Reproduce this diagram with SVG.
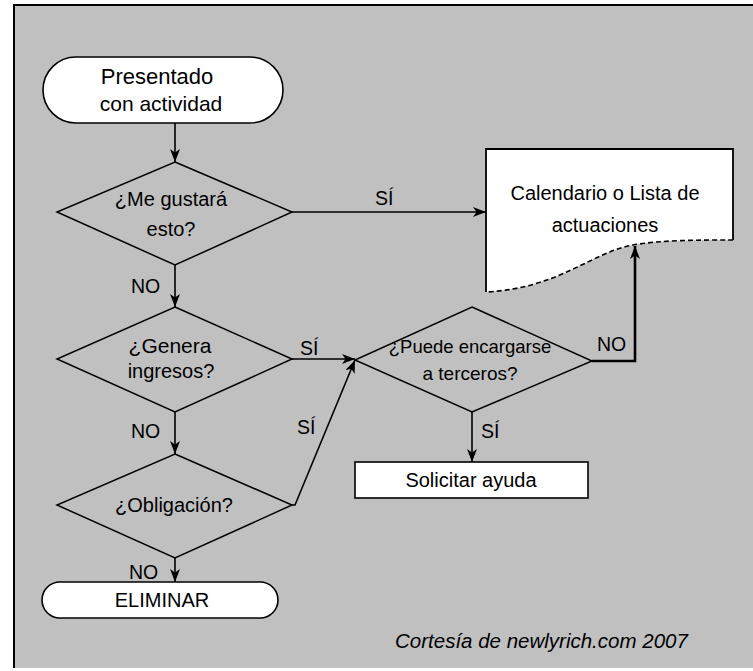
<svg xmlns="http://www.w3.org/2000/svg" width="753" height="671" viewBox="0 0 753 671">
<defs>
<style>
.bg{fill:#c0c0c0}
.frame{stroke:#000;stroke-width:2;fill:none}
.term{fill:#fff;stroke:#000;stroke-width:1.6}
.dia{fill:none;stroke:#000;stroke-width:1.5}
.box{fill:#fff;stroke:#000;stroke-width:1.6}
.t{font-family:"Liberation Sans",Arial,sans-serif;font-size:20px;fill:#000;text-anchor:middle}
.ta{font-family:"Liberation Sans",Arial,sans-serif;font-size:20px;fill:#000;text-anchor:middle}
.lbl{font-family:"Liberation Sans",Arial,sans-serif;font-size:19.5px;fill:#000}
.cr{font-family:"Liberation Sans",Arial,sans-serif;font-size:20.5px;font-style:italic;fill:#000}
.c{fill:none;stroke:#000;stroke-width:1.6}
.thick{fill:none;stroke:#000;stroke-width:2.6}
</style>
<marker id="ah" markerUnits="userSpaceOnUse" markerWidth="14" markerHeight="10" refX="13" refY="5" orient="auto">
<path d="M0,0 L13,5 L0,10 L3.5,5 z" fill="#000"/>
</marker>
</defs>
<rect x="0" y="0" width="753" height="671" fill="#fff"/>
<rect class="bg" x="14" y="5" width="739" height="663"/>
<path class="frame" d="M14,668 L14,5 L753,5"/>

<g id="connectors">
<path class="c" d="M175,123 L175,162" marker-end="url(#ah)"/>
<path class="c" d="M292,212 L486,212" marker-end="url(#ah)"/>
<path class="c" d="M175,265 L175,307" marker-end="url(#ah)"/>
<path class="c" d="M292,359 L355,359" marker-end="url(#ah)"/>
<path class="c" d="M175,412 L175,454" marker-end="url(#ah)"/>
<path class="c" d="M292,505 L295,505 L355,360" marker-end="url(#ah)"/>
<path class="c" d="M175,558 L175,582" marker-end="url(#ah)"/>
<path class="c" d="M472,412 L472,462" marker-end="url(#ah)"/>
<path class="thick" d="M592,361 L635,361 L635,246" marker-end="url(#ah)"/>
<text class="lbl" x="375" y="205">SÍ</text>
<text class="lbl" x="131" y="293">NO</text>
<text class="lbl" x="300" y="355">SÍ</text>
<text class="lbl" x="131" y="438">NO</text>
<text class="lbl" x="297" y="434">SÍ</text>
<text class="lbl" x="129" y="579">NO</text>
<text class="lbl" x="481" y="438">SÍ</text>
<text class="lbl" x="597" y="351">NO</text>
</g>

<g id="start">
<rect class="term" x="43" y="57" width="240" height="66" rx="33"/>
<text class="t" x="157" y="84" style="font-size:22px">Presentado</text>
<text class="t" x="161" y="111" style="font-size:21px">con actividad</text>
</g>

<g id="q1">
<polygon class="dia" points="175,162 292,212 175,265 57,212"/>
<text class="t" x="171" y="206">¿Me gustará</text>
<text class="t" x="171" y="236">esto?</text>
</g>

<g id="q2">
<polygon class="dia" points="175,307 292,359 175,412 57,359"/>
<text class="t" x="170" y="353" style="font-size:21px">¿Genera</text>
<text class="t" x="171" y="378">ingresos?</text>
</g>

<g id="q3">
<polygon class="dia" points="175,454 292,505 175,558 57,505"/>
<text class="t" x="174" y="512">¿Obligación?</text>
</g>

<g id="end">
<rect class="term" x="42" y="582" width="236" height="36" rx="18"/>
<text class="t" x="162" y="607">ELIMINAR</text>
</g>

<g id="q4">
<polygon class="dia" points="472,307 592,361 472,412 355,360"/>
<text class="t" x="470" y="353" style="font-size:18.5px">¿Puede encargarse</text>
<text class="t" x="470" y="380" style="font-size:19px">a terceros?</text>
</g>

<g id="help">
<rect class="box" x="355" y="462" width="233" height="36"/>
<text class="ta" x="471" y="487">Solicitar ayuda</text>
</g>

<g id="calendar">
<path d="M486,149 L733,149 L733,240 C700,240 660,240 633,245 C590,253 560,288 486,292 Z" fill="#fff"/>
<path d="M486,292 L486,149 L733,149 L733,240" fill="none" stroke="#000" stroke-width="1.8"/>
<path d="M733,240 C700,240 660,240 633,245 C590,253 560,288 486,292" fill="none" stroke="#000" stroke-width="1.6" stroke-dasharray="5,3"/>
<text class="ta" x="605" y="200">Calendario o Lista de</text>
<text class="ta" x="605" y="232">actuaciones</text>
</g>

<text class="cr" x="395" y="648">Cortesía de newlyrich.com 2007</text>
</svg>
